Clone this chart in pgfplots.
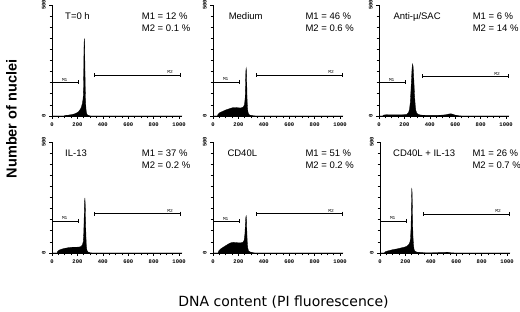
\documentclass[border=0pt]{standalone}
\usepackage{fontspec}
\setmainfont{Liberation Sans}
\newfontfamily\dejavu{DejaVu Sans}
\setmonofont{Liberation Mono}
\usepackage{pgfplots}
\pgfplotsset{compat=1.18}
\usetikzlibrary{arrows.meta}
\pgfplotsset{
  panel/.style={
    scale only axis, width=130pt, height=111pt,
    xmin=0, xmax=1023, ymin=0, ymax=500,
    axis lines=left, axis line style={-, line width=0.6pt},
    tick align=outside,
    xtick={0,200,...,1000}, ytick={0,500},
    minor xtick={50,100,150,250,300,350,450,500,550,650,700,750,850,900,950},
    minor ytick={50,100,150,200,250,300,350,400,450},
    major tick length=2.8pt, minor tick length=2.4pt,
    every tick/.style={black, line width=0.6pt},
    every minor tick/.style={black, line width=0.6pt},
    ticklabel style={font=\fontsize{5.5}{5.5}\selectfont\ttfamily\bfseries},
    yticklabel style={rotate=90, anchor=south},
    /pgf/number format/assume math mode=true,
    /pgf/number format/1000 sep={},
    clip=false,
  },
  hist/.style={fill=black, draw=black, line width=0.3pt},
  mbar/.style={black, line width=0.5pt, {Bar[width=4pt]}-{Bar[width=4pt]}},
}
\newcommand{\mlab}[2]{\node[font=\fontsize{4.5}{4.5}\selectfont\ttfamily, anchor=south, inner sep=0.8pt] at (axis cs:#1) {#2};}
\newcommand{\ptitle}[2]{\node[anchor=north west, inner sep=0pt, font=\fontsize{9.5}{12.5}\selectfont] at (rel axis cs:#1,0.935) {#2};}
\newcommand{\pstats}[3]{\node[anchor=north west, inner sep=0pt, align=left, font=\fontsize{9.5}{12.5}\selectfont] at (rel axis cs:#1,0.935) {M1 = #2 \%\\M2 = #3 \%};}
\begin{document}
\begin{tikzpicture}[x=1pt,y=1pt]
\useasboundingbox (0,0) rectangle (520,311);

% Panel 1: T=0 h
\begin{axis}[panel, at={(52pt,195pt)}, anchor=south west]
\addplot[hist] coordinates {(0,0) (95,0) (100,2) (120,3) (140,5) (160,7) (180,10) (195,14) (205,18) (215,24) (225,32) (232,42) (238,55) (243,70) (246,90) (248,130) (250,220) (252,320) (254,350) (256,335) (258,270) (260,190) (262,120) (264,70) (267,35) (271,14) (278,5) (290,2) (305,0) (1023,0)} \closedcycle;
\addplot[mbar] coordinates {(0,153) (206,153)};
\addplot[mbar] coordinates {(332,185) (1015,185)};
\mlab{100,153}{M1}
\mlab{930,185}{M2}
\ptitle{0.10}{T=0 h}
\pstats{0.69}{12}{0.1}
\end{axis}

% Panel 2: Medium
\begin{axis}[panel, at={(213pt,195pt)}, anchor=south west]
\addplot[hist] coordinates {(0,0) (35,0) (40,8) (50,14) (65,18) (80,22) (100,27) (120,31) (140,35) (160,38) (180,38) (200,37) (215,36) (230,38) (240,42) (248,52) (253,80) (256,140) (258,200) (261,216) (264,200) (266,140) (268,80) (271,40) (275,18) (282,7) (295,3) (320,1) (340,0) (1023,0)} \closedcycle;
\addplot[mbar] coordinates {(0,154) (210,154)};
\addplot[mbar] coordinates {(338,185) (1018,185)};
\mlab{100,154}{M1}
\mlab{930,185}{M2}
\ptitle{0.12}{Medium}
\pstats{0.71}{46}{0.6}
\end{axis}

% Panel 3: Anti-mu/SAC
\begin{axis}[panel, at={(379pt,195pt)}, anchor=south west]
\addplot[hist] coordinates {(0,0) (30,0) (35,4) (60,6) (80,5) (120,5) (160,5) (200,6) (220,8) (232,15) (240,30) (246,60) (251,110) (256,170) (260,215) (264,234) (268,225) (272,190) (276,140) (280,90) (285,50) (290,25) (298,12) (310,7) (330,4) (380,3) (450,3) (500,4) (530,6) (550,9) (565,10) (580,8) (600,4) (630,1) (660,0) (1023,0)} \closedcycle;
\addplot[mbar] coordinates {(0,152) (206,152)};
\addplot[mbar] coordinates {(335,180) (1018,180)};
\mlab{100,152}{M1}
\mlab{930,180}{M2}
\ptitle{0.11}{Anti-μ/SAC}
\pstats{0.72}{6}{14}
\end{axis}

% Panel 4: IL-13
\begin{axis}[panel, at={(52pt,58pt)}, anchor=south west]
\addplot[hist] coordinates {(0,0) (40,0) (45,8) (60,14) (80,18) (100,21) (130,24) (160,26) (190,26) (215,27) (230,30) (240,38) (246,52) (250,90) (253,160) (256,230) (259,248) (262,215) (264,150) (267,80) (270,35) (275,12) (285,4) (300,1) (320,0) (1023,0)} \closedcycle;
\addplot[mbar] coordinates {(0,145) (206,145)};
\addplot[mbar] coordinates {(332,177) (1015,177)};
\mlab{100,145}{M1}
\mlab{930,177}{M2}
\ptitle{0.10}{IL-13}
\pstats{0.69}{37}{0.2}
\end{axis}

% Panel 5: CD40L
\begin{axis}[panel, at={(213pt,58pt)}, anchor=south west]
\addplot[hist] coordinates {(0,0) (40,0) (45,10) (60,18) (80,26) (100,33) (120,40) (140,46) (160,48) (180,47) (200,46) (220,46) (235,48) (245,57) (251,85) (255,130) (258,160) (261,167) (264,150) (266,105) (269,55) (273,25) (279,10) (290,5) (310,2) (330,0) (1023,0)} \closedcycle;
\addplot[mbar] coordinates {(0,144) (210,144)};
\addplot[mbar] coordinates {(338,177) (1018,177)};
\mlab{100,144}{M1}
\mlab{930,177}{M2}
\ptitle{0.11}{CD40L}
\pstats{0.71}{51}{0.2}
\end{axis}

% Panel 6: CD40L + IL-13
\begin{axis}[panel, at={(380pt,58pt)}, anchor=south west]
\addplot[hist] coordinates {(0,0) (35,0) (40,5) (60,9) (80,12) (100,15) (130,18) (160,22) (190,26) (210,30) (225,37) (235,48) (240,65) (244,110) (247,200) (250,293) (253,270) (255,200) (257,130) (260,70) (264,35) (268,16) (275,8) (290,4) (320,2) (360,1) (400,1) (500,2) (530,3) (560,1) (600,0) (1023,0)} \closedcycle;
\addplot[mbar] coordinates {(0,145) (206,145)};
\addplot[mbar] coordinates {(335,176) (1018,176)};
\mlab{100,145}{M1}
\mlab{930,176}{M2}
\ptitle{0.10}{CD40L + IL-13}
\pstats{0.71}{26}{0.7}
\end{axis}

\node[rotate=90, font=\fontsize{14.5}{15}\selectfont\bfseries] at (11.5,192) {Number of nuclei};
\node[font=\dejavu\fontsize{14}{15}\selectfont] at (283.5,9) {DNA content (PI fluorescence)};
\end{tikzpicture}
\end{document}
